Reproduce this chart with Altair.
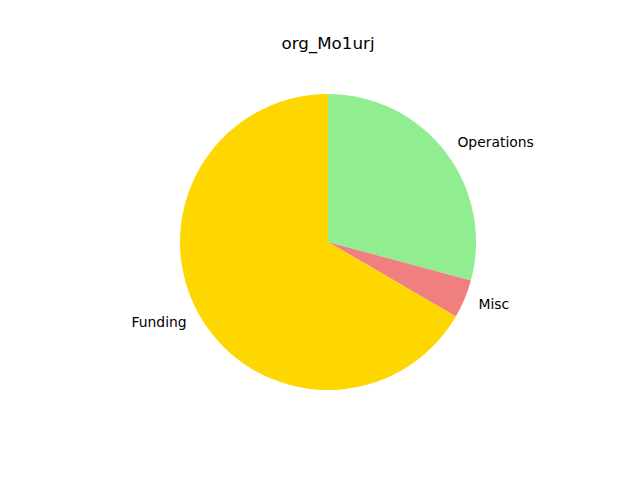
import altair as alt
import pandas as pd

categories = ["Operations", "Misc", "Funding"]
values = [29.2, 4.2, 66.6]
colors = ["#90EE90", "#F08080", "#FFD700"]
title_text = "org_Mo1urj"

df = pd.DataFrame({"cat": categories, "val": values, "idx": list(range(len(categories)))})

base = alt.Chart(df).encode(
    theta=alt.Theta("val:Q", stack=True),
    order=alt.Order("idx:Q"),
)

pie = base.mark_arc(radius=148).encode(
    color=alt.Color("cat:N", scale=alt.Scale(domain=categories, range=colors), legend=None),
    x=alt.value(320),
    y=alt.value(234),
)

labels = base.mark_text(
    radius=163,
    font="DejaVu Sans",
    fontSize=13.9,
    color="black",
    baseline="middle",
    align=alt.expr("datum.cat == 'Funding' ? 'right' : 'left'"),
).encode(
    text="cat:N",
    x=alt.value(320),
    y=alt.value(234),
)

title = alt.Chart(pd.DataFrame({"t": [title_text]})).mark_text(
    font="DejaVu Sans", fontSize=16.7, color="black", baseline="middle", align="center"
).encode(text="t:N", x=alt.value(320), y=alt.value(36))

chart = alt.layer(pie, labels, title).properties(
    width=624, height=464, padding=0
).configure_view(stroke=None)

chart.save("out.html", embed_options={"renderer": "svg", "actions": False})
